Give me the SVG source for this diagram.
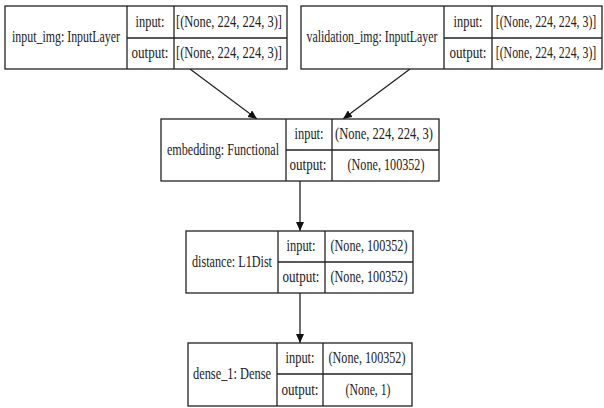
<svg xmlns="http://www.w3.org/2000/svg" width="604" height="408" viewBox="0 0 604 408">
<style>
.b{fill:#fff;stroke:#222;stroke-width:1.3}
.l{stroke:#222;stroke-width:1.3;fill:none}
text{font-family:"Liberation Serif","DejaVu Serif",serif;font-size:16px;fill:#222;text-anchor:middle}
</style>
<defs>
<marker id="ah" markerUnits="userSpaceOnUse" markerWidth="10" markerHeight="8" refX="9" refY="4" orient="auto">
<path d="M0,0 L9,4 L0,8 Z" fill="#111"/>
</marker>
</defs>
<rect width="604" height="408" fill="#fff"/>
<g id="connectors">
<line class="l" x1="190" y1="69" x2="257" y2="119" marker-end="url(#ah)"/>
<line class="l" x1="410" y1="69" x2="343" y2="119" marker-end="url(#ah)"/>
<line class="l" x1="300" y1="181" x2="300" y2="231" marker-end="url(#ah)"/>
<line class="l" x1="300" y1="293" x2="300" y2="343" marker-end="url(#ah)"/>
</g>
<g id="input_img">
<rect class="b" x="5" y="6" width="282" height="63"/>
<line class="l" x1="127" y1="6" x2="127" y2="69"/>
<line class="l" x1="174" y1="6" x2="174" y2="69"/>
<line class="l" x1="127" y1="38" x2="287" y2="38"/>
<text x="66" y="42" textLength="108" lengthAdjust="spacingAndGlyphs">input_img: InputLayer</text>
<text x="150" y="27" textLength="29" lengthAdjust="spacingAndGlyphs">input:</text>
<text x="150" y="58" textLength="37" lengthAdjust="spacingAndGlyphs">output:</text>
<text x="229" y="27" textLength="106" lengthAdjust="spacingAndGlyphs">[(None, 224, 224, 3)]</text>
<text x="229" y="58" textLength="106" lengthAdjust="spacingAndGlyphs">[(None, 224, 224, 3)]</text>
</g>
<g id="validation_img">
<rect class="b" x="301" y="6" width="301" height="63"/>
<line class="l" x1="444" y1="6" x2="444" y2="69"/>
<line class="l" x1="492" y1="6" x2="492" y2="69"/>
<line class="l" x1="444" y1="38" x2="602" y2="38"/>
<text x="372" y="42" textLength="131" lengthAdjust="spacingAndGlyphs">validation_img: InputLayer</text>
<text x="468" y="27" textLength="29" lengthAdjust="spacingAndGlyphs">input:</text>
<text x="468" y="58" textLength="37" lengthAdjust="spacingAndGlyphs">output:</text>
<text transform="translate(546,27) scale(0.74,1)">[(None, 224, 224, 3)]</text>
<text transform="translate(546,58) scale(0.74,1)">[(None, 224, 224, 3)]</text>
</g>
<g id="embedding">
<rect class="b" x="161" y="119" width="278" height="62"/>
<line class="l" x1="286" y1="119" x2="286" y2="181"/>
<line class="l" x1="332" y1="119" x2="332" y2="181"/>
<line class="l" x1="286" y1="150" x2="439" y2="150"/>
<text x="223" y="155" textLength="112" lengthAdjust="spacingAndGlyphs">embedding: Functional</text>
<text x="309" y="139" textLength="29" lengthAdjust="spacingAndGlyphs">input:</text>
<text x="308" y="170" textLength="37" lengthAdjust="spacingAndGlyphs">output:</text>
<text x="384" y="139" textLength="98" lengthAdjust="spacingAndGlyphs">(None, 224, 224, 3)</text>
<text x="386" y="170" textLength="77" lengthAdjust="spacingAndGlyphs">(None, 100352)</text>
</g>
<g id="distance">
<rect class="b" x="186" y="231" width="227" height="62"/>
<line class="l" x1="278" y1="231" x2="278" y2="293"/>
<line class="l" x1="325" y1="231" x2="325" y2="293"/>
<line class="l" x1="278" y1="262" x2="413" y2="262"/>
<text x="232" y="267" textLength="80" lengthAdjust="spacingAndGlyphs">distance: L1Dist</text>
<text x="301" y="251" textLength="29" lengthAdjust="spacingAndGlyphs">input:</text>
<text x="301" y="282" textLength="37" lengthAdjust="spacingAndGlyphs">output:</text>
<text x="369" y="251" textLength="77" lengthAdjust="spacingAndGlyphs">(None, 100352)</text>
<text x="369" y="282" textLength="77" lengthAdjust="spacingAndGlyphs">(None, 100352)</text>
</g>
<g id="dense_1">
<rect class="b" x="188" y="343" width="224" height="63"/>
<line class="l" x1="277" y1="343" x2="277" y2="406"/>
<line class="l" x1="323" y1="343" x2="323" y2="406"/>
<line class="l" x1="277" y1="374" x2="412" y2="374"/>
<text x="232" y="379" textLength="78" lengthAdjust="spacingAndGlyphs">dense_1: Dense</text>
<text x="300" y="363" textLength="29" lengthAdjust="spacingAndGlyphs">input:</text>
<text x="300" y="395" textLength="37" lengthAdjust="spacingAndGlyphs">output:</text>
<text x="367" y="363" textLength="77" lengthAdjust="spacingAndGlyphs">(None, 100352)</text>
<text x="368" y="395" textLength="45" lengthAdjust="spacingAndGlyphs">(None, 1)</text>
</g>
</svg>
